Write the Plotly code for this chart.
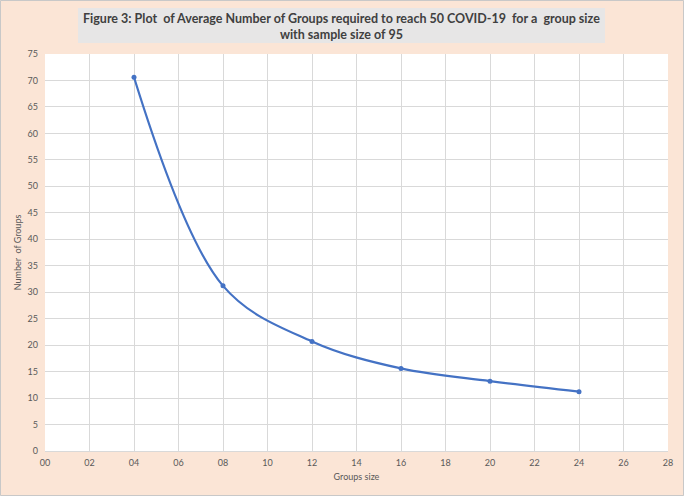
import plotly.graph_objects as go

group_size = [4, 8, 12, 16, 20, 24]
num_groups = [70.6, 31.2, 20.7, 15.6, 13.2, 11.2]

x_ticks = list(range(0, 29, 2))
y_ticks = list(range(0, 76, 5))

W, H = 684, 496
L, R, T, B = 45, 16, 54, 45
pw, ph = W - L - R, H - T - B

def px(x):
    return (x - L) / pw

def py(y):
    return (H - B - y) / ph

fig = go.Figure()
fig.add_trace(go.Scatter(
    x=group_size, y=num_groups, mode="lines+markers",
    line=dict(color="#4472C4", width=2.2, shape="spline", smoothing=1.0),
    marker=dict(color="#4472C4", size=5),
    showlegend=False, hoverinfo="skip"))

tick_font = dict(family="Lato, Carlito, sans-serif", size=9, color="#595959")
fig.update_layout(
    width=W, height=H,
    margin=dict(l=L, r=R, t=T, b=B, autoexpand=False),
    paper_bgcolor="#FBE5D6", plot_bgcolor="#FFFFFF",
    xaxis=dict(range=[0, 28], tickvals=x_ticks, ticktext=[f"{v:02d}" for v in x_ticks],
               showgrid=True, gridcolor="#D9D9D9", gridwidth=1, zeroline=False,
               showline=True, linecolor="#D9D9D9", ticks="", tickfont=tick_font,
               ticklabelstandoff=3,
               title=dict(text="Groups size", font=tick_font, standoff=6)),
    yaxis=dict(range=[0, 75], tickvals=y_ticks, showgrid=True, gridcolor="#D9D9D9",
               gridwidth=1, zeroline=False, showline=False, ticks="", tickfont=tick_font,
               ticklabelstandoff=6,
               title=dict(text="Number  of Groups", font=tick_font, standoff=4)),
    shapes=[
        dict(type="rect", xref="paper", yref="paper", layer="below",
             x0=px(78), x1=px(605), y0=py(8), y1=py(43),
             fillcolor="#E7E6E6", line=dict(width=0)),
        dict(type="rect", xref="paper", yref="paper", layer="above",
             x0=px(0.5), x1=px(W - 0.5), y0=py(0.5), y1=py(H - 0.5),
             fillcolor="rgba(0,0,0,0)", line=dict(color="#C8C8C8", width=1)),
    ],
    annotations=[dict(
        xref="paper", yref="paper", x=px(341), y=py(26), xanchor="center", yanchor="middle",
        showarrow=False, align="center",
        text="<b>Figure 3: Plot  of Average Number of Groups required to reach 50 COVID-19  for a  group size<br>with sample size of 95</b>",
        font=dict(family="Lato, Carlito, sans-serif", size=12.5, color="#404040"))],
)

fig.write_html("out.html")
